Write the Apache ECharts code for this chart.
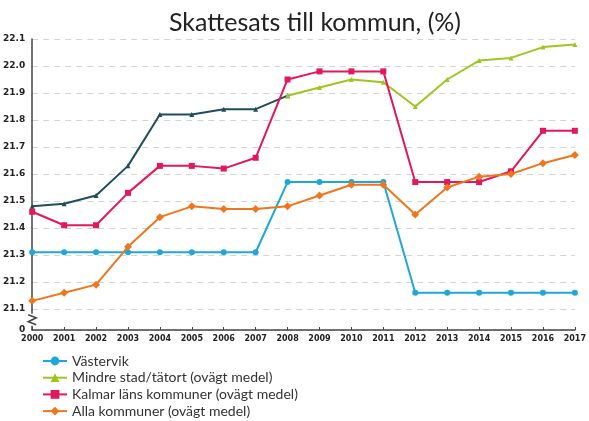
<!DOCTYPE html>
<html>
<head>
<meta charset="utf-8">
<script src="https://cdn.jsdelivr.net/npm/echarts@6/dist/echarts.min.js"></script>
<style>
  html, body { margin: 0; padding: 0; background: #fff; }
  #chart { width: 589px; height: 421px; }
</style>
</head>
<body>
<div id="chart"></div>
<script>
// år på x-axeln
const years = ['2000', '2001', '2002', '2003', '2004', '2005', '2006', '2007', '2008',
    '2009', '2010', '2011', '2012', '2013', '2014', '2015', '2016', '2017'];

// y-axelns etiketter (axeln är bruten, nedersta etiketten visas som 0)
const yMin = 21.022;
const yTicks = [yMin, 21.1, 21.2, 21.3, 21.4, 21.5, 21.6, 21.7, 21.8, 21.9, 22.0, 22.1];

const vastervik = [21.31, 21.31, 21.31, 21.31, 21.31, 21.31, 21.31, 21.31, 21.57,
    21.57, 21.57, 21.57, 21.16, 21.16, 21.16, 21.16, 21.16, 21.16];
// mörk linje före 2008 (samma grupp, äldre indelning) - ingen legend
const mindreOld = [21.48, 21.49, 21.52, 21.63, 21.82, 21.82, 21.84, 21.84, 21.89,
    null, null, null, null, null, null, null, null, null];
const mindre = [null, null, null, null, null, null, null, null, 21.89,
    21.92, 21.95, 21.94, 21.85, 21.95, 22.02, 22.03, 22.07, 22.08];
const kalmar = [21.46, 21.41, 21.41, 21.53, 21.63, 21.63, 21.62, 21.66, 21.95,
    21.98, 21.98, 21.98, 21.57, 21.57, 21.57, 21.61, 21.76, 21.76];
const alla = [21.13, 21.16, 21.19, 21.33, 21.44, 21.48, 21.47, 21.47, 21.48,
    21.52, 21.56, 21.56, 21.45, 21.55, 21.59, 21.60, 21.64, 21.67];

const chart = echarts.init(document.getElementById('chart'));

function lineSeries(name, data, color, symbol, size) {
    return {
        name: name,
        type: 'line',
        data: data,
        symbol: symbol,
        symbolSize: size,
        showSymbol: true,
        connectNulls: false,
        lineStyle: { color: color, width: 2 },
        itemStyle: { color: color },
        emphasis: { disabled: true },
        animation: false
    };
}

chart.setOption({
    animation: false,
    title: {
        text: 'Skattesats till kommun, (%)',
        left: 310,
        textAlign: 'center',
        top: 5,
        textStyle: { fontFamily: 'Lato', fontSize: 25, fontWeight: 'normal', color: '#222' }
    },
    legend: {
        orient: 'vertical',
        left: 42,
        top: 354,
        height: 66,
        padding: 0,
        itemWidth: 24,
        itemHeight: 11,
        itemGap: 2.7,
        data: ['Västervik', 'Mindre stad/tätort (ovägt medel)',
            'Kalmar läns kommuner (ovägt medel)', 'Alla kommuner (ovägt medel)'],
        textStyle: { fontFamily: 'Lato', fontSize: 14, lineHeight: 14, color: '#333' }
    },
    grid: { left: 32, right: 10, top: 39, bottom: 91 },
    xAxis: {
        type: 'category',
        data: years,
        boundaryGap: false,
        axisLine: { lineStyle: { color: '#444', width: 1.5 } },
        axisTick: { show: true, inside: true, length: 3, interval: 0, lineStyle: { color: '#444' } },
        axisLabel: { interval: 0, fontSize: 8, fontWeight: 'bold', color: '#222', margin: 5, fontFamily: 'DejaVu Sans' }
    },
    yAxis: {
        type: 'value',
        min: yMin,
        max: 22.1,
        axisLine: { show: true, lineStyle: { color: '#444', width: 1.5 } },
        axisTick: { show: false, customValues: yTicks },
        axisLabel: {
            customValues: yTicks,
            fontSize: 9,
            fontWeight: 'bold',
            color: '#222',
            margin: 7,
            fontFamily: 'DejaVu Sans',
            formatter: function (v) { return v < 21.05 ? '0' : v.toFixed(1); }
        },
        splitLine: { show: true, lineStyle: { color: '#d4d4d4', type: [6, 5] } }
    },
    series: [
        lineSeries('Västervik', vastervik, '#1ea8da', 'circle', 6),
        lineSeries('', mindreOld, '#1f4d5c', 'triangle', 5),
        lineSeries('Mindre stad/tätort (ovägt medel)', mindre, '#9dc61f', 'triangle', 5),
        lineSeries('Kalmar läns kommuner (ovägt medel)', kalmar, '#e3175c', 'rect', 6),
        lineSeries('Alla kommuner (ovägt medel)', alla, '#ef761e', 'diamond', 8)
    ]
});

// axelbrytning nere på y-axeln
const p = chart.convertToPixel({ gridIndex: 0 }, [0, 21.06]);
const bx = p[0], by = p[1];
chart.setOption({
    graphic: [
        { type: 'rect', shape: { x: bx - 3, y: by - 6, width: 6, height: 12 }, style: { fill: '#fff' }, z: 100 },
        {
            type: 'polyline',
            shape: { points: [[bx - 4, by - 5], [bx + 4, by - 2], [bx - 4, by + 2], [bx + 4, by + 5]] },
            style: { stroke: '#444', lineWidth: 1.5, fill: null },
            z: 101
        }
    ]
});
</script>
</body>
</html>
